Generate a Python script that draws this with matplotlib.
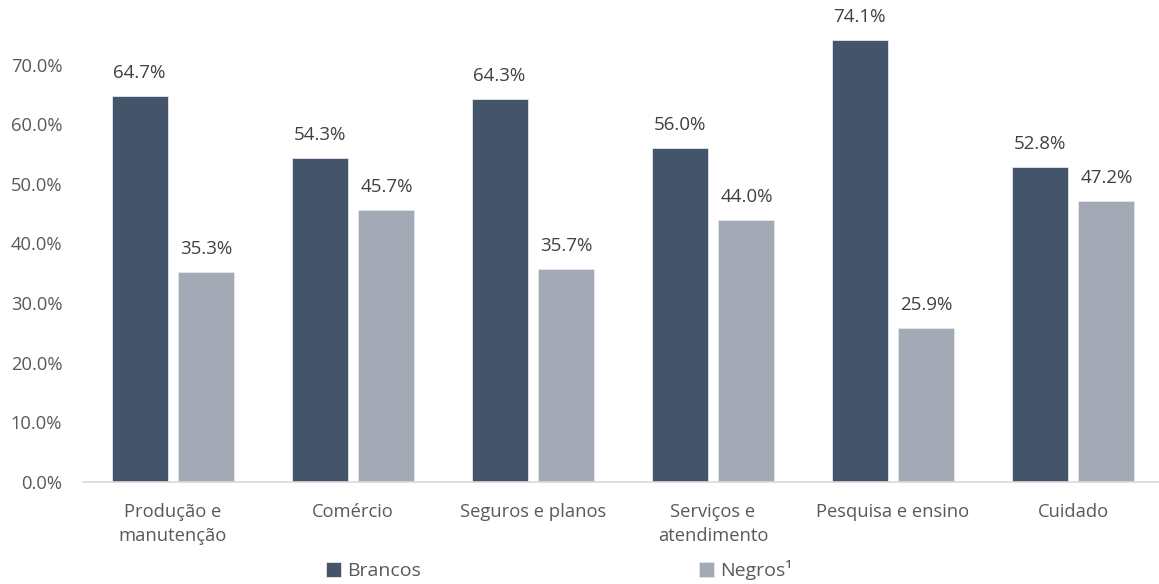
import numpy as np
import matplotlib.pyplot as plt
plt.rcParams.update({
    "font.family": ["Open Sans", "DejaVu Sans"],
    "font.size": 13.2,
    "text.color": "#595959",
    "xtick.color": "#595959",
    "ytick.color": "#595959",
})

categories = ["Produção e\nmanutenção", "Comércio", "Seguros e planos",
              "Serviços e\natendimento", "Pesquisa e ensino", "Cuidado"]
brancos = [64.7, 54.3, 64.3, 56.0, 74.1, 52.8]
negros = [35.3, 45.7, 35.7, 44.0, 25.9, 47.2]

dark = "#44546A"
light = "#A3AAB5"

fig = plt.figure(figsize=(11.59, 5.84), dpi=100)
ax = fig.add_axes([83 / 1159, 102 / 584, 1080 / 1159, 477 / 584])

x = np.arange(len(categories))
w = 0.311
off = 0.186
b1 = ax.bar(x - off, brancos, w, color=dark, edgecolor="#E4E7EB", linewidth=0.6, label="Brancos")
b2 = ax.bar(x + off, negros, w, color=light, edgecolor="#E4E7EB", linewidth=0.6, label="Negros¹")

for bars, vals in ((b1, brancos), (b2, negros)):
    for r, v in zip(bars, vals):
        ax.annotate(f"{v:.1f}%", (r.get_x() + r.get_width() / 2, v),
                    xytext=(0, 10), textcoords="offset points",
                    ha="center", va="bottom", fontsize=13.5, color="#404040")

ax.set_xlim(-0.5, len(categories) - 0.5)
ax.set_ylim(0, 80)
ax.set_yticks(np.arange(0, 80, 10))
ax.set_yticklabels([f"{t:.1f}%" for t in np.arange(0, 80, 10)])
ax.set_xticks(x)
ax.set_xticklabels(categories, linespacing=1.45)
ax.tick_params(axis="both", length=0)
ax.tick_params(axis="x", pad=15)
ax.tick_params(axis="y", pad=15)
for s in ("top", "right", "left"):
    ax.spines[s].set_visible(False)
ax.spines["bottom"].set_color("#D9D9D9")
ax.spines["bottom"].set_linewidth(1.2)

fig.legend(handles=[b1, b2], loc="center", ncol=2,
           bbox_to_anchor=(559 / 1159, 14 / 584), frameon=False,
           fontsize=14, handlelength=0.8, handleheight=0.8,
           handletextpad=0.3, columnspacing=14.3)

fig.savefig("out.png", dpi=100)
